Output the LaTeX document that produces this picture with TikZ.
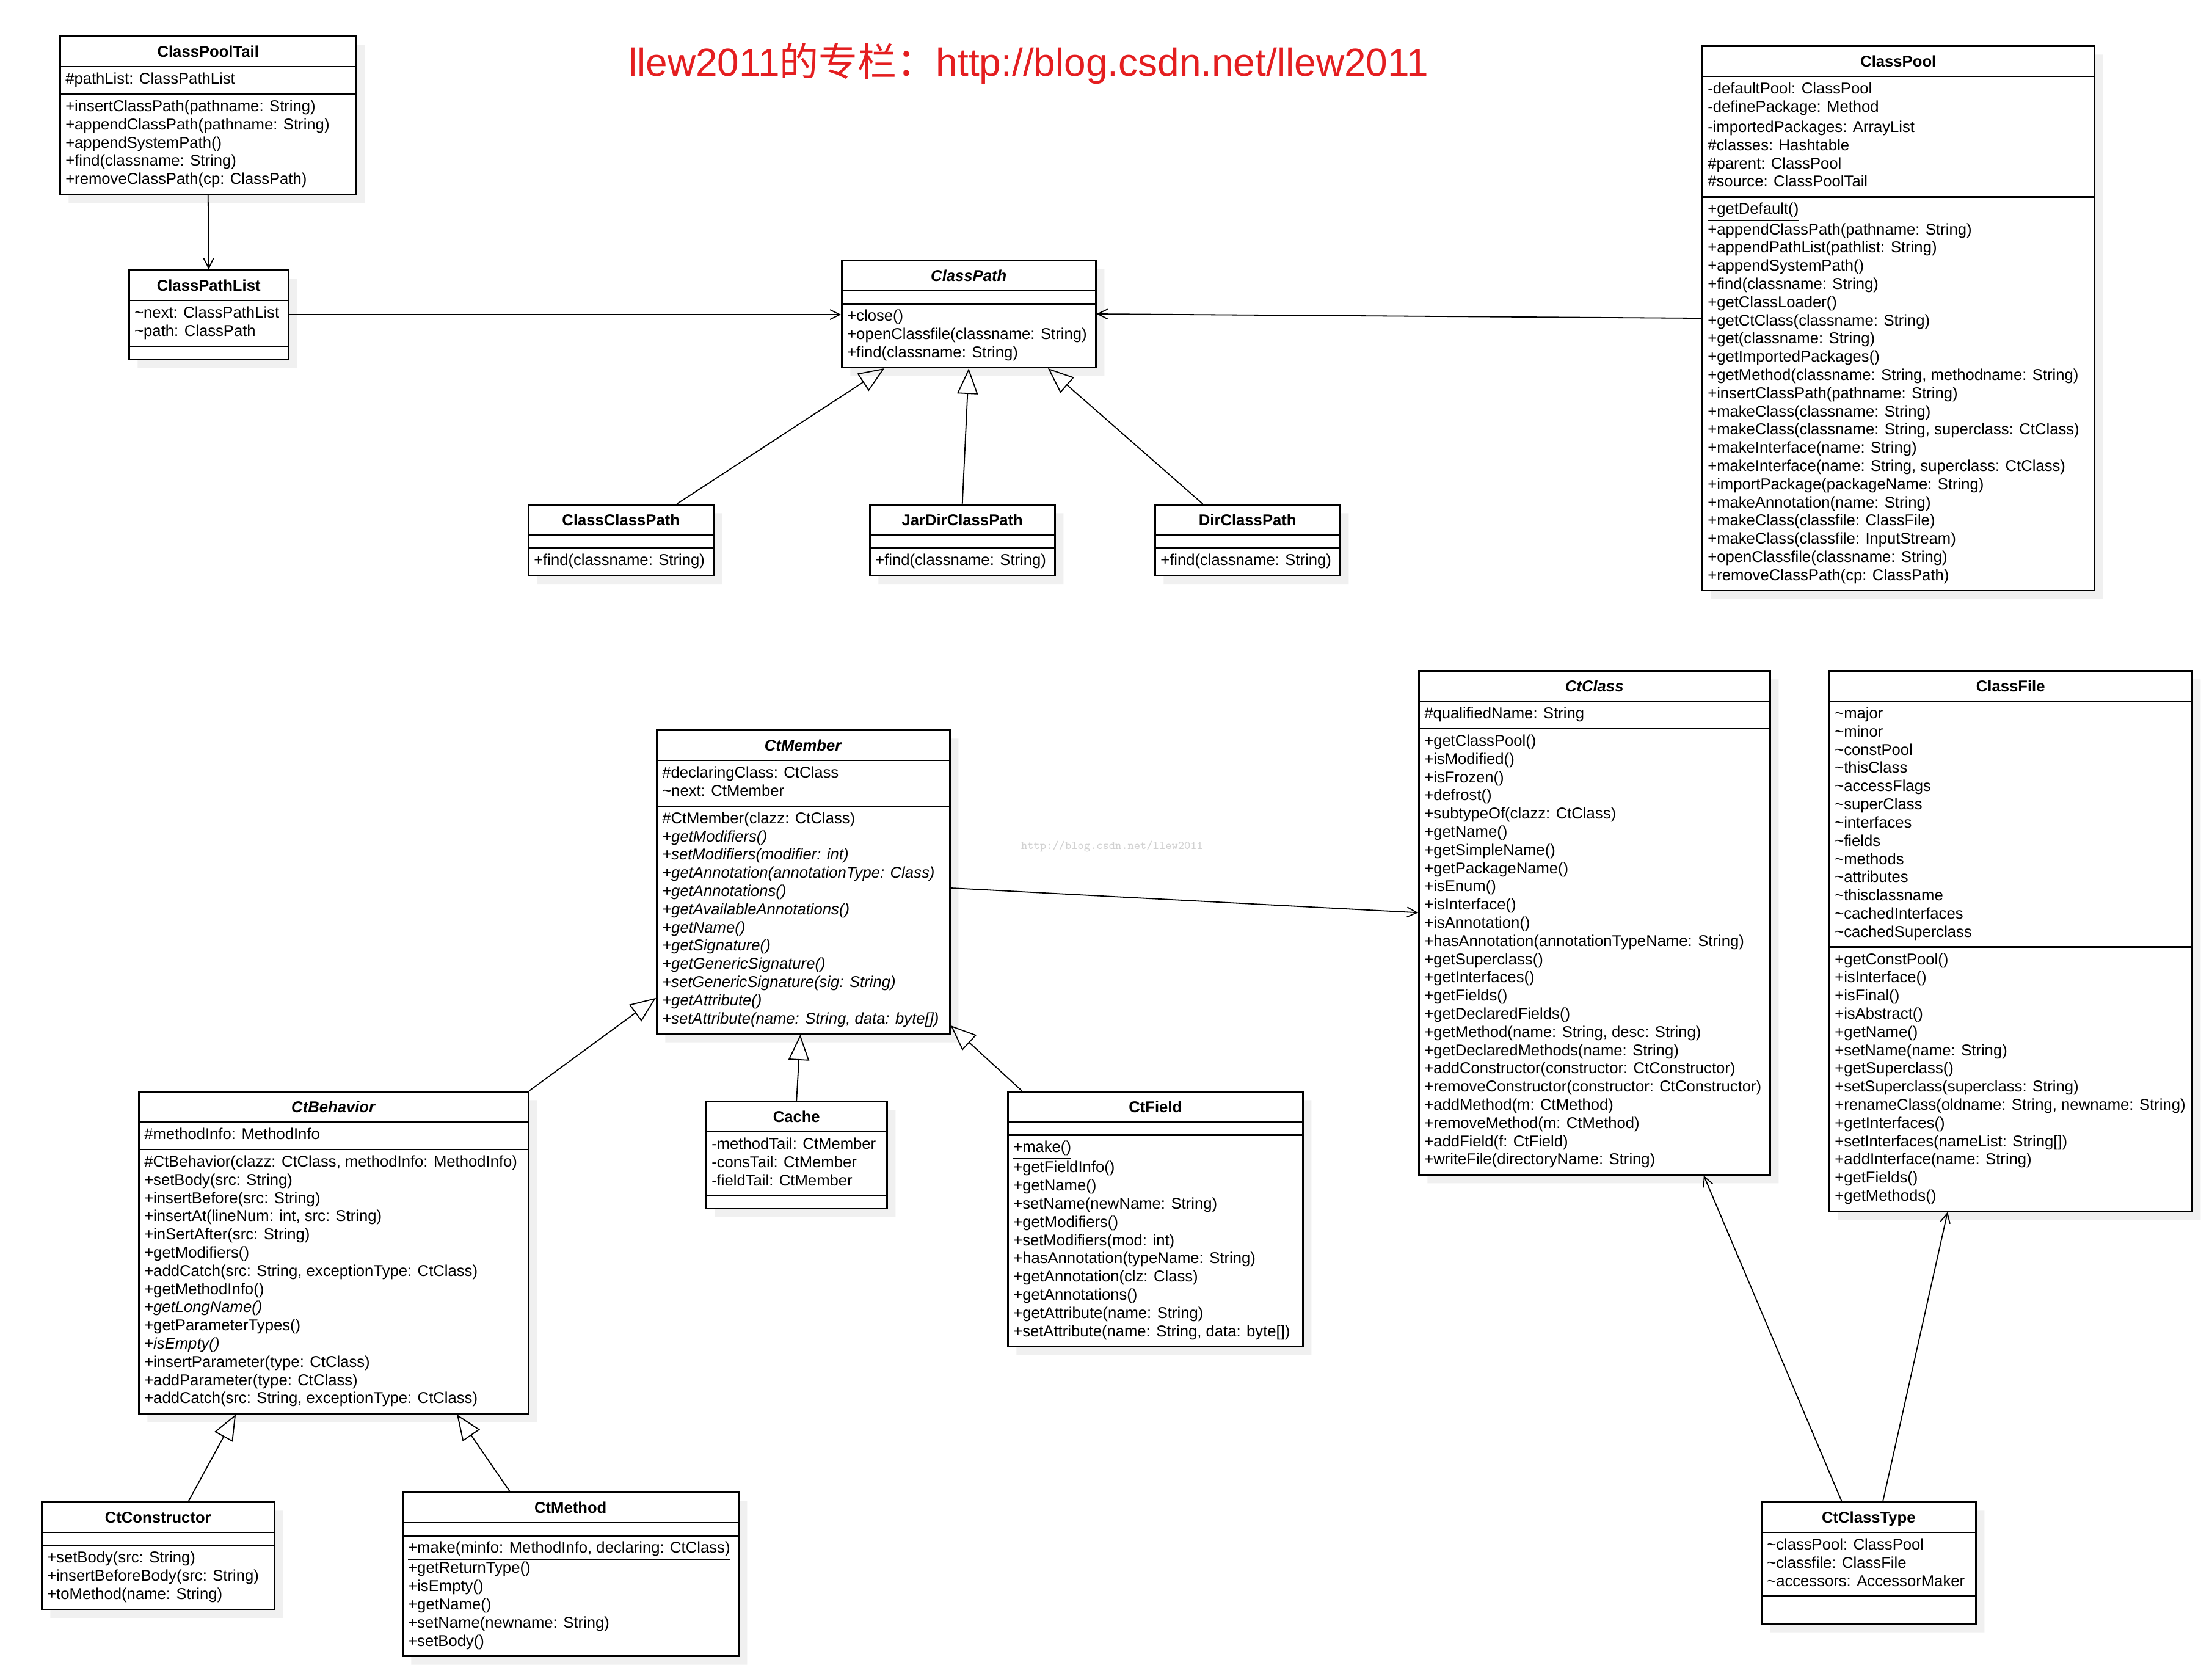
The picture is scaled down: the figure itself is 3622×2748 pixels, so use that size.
\documentclass[tikz,border=0pt]{standalone}
\usepackage{fontspec}
\setmainfont{Liberation Sans}
\newfontfamily\cjk{Noto Sans CJK SC}
\usetikzlibrary{arrows.meta, shapes.multipart, shadows, calc, positioning}
\definecolor{titlered}{RGB}{228,30,32}
\newcommand{\umlfont}{\fontsize{7.3}{8.48}\selectfont}
\newcommand{\clsname}[1]{\rule[-0.78mm]{0pt}{3.48mm}\textbf{#1}}
\newcommand{\members}[1]{\begin{tabular}{@{}l@{}}#1\end{tabular}}
\newcommand{\nomembers}{\phantom{\rule{1pt}{0.6mm}}}
\newcommand{\pk}{\textasciitilde}

\begin{document}
\begin{tikzpicture}[
    x=0.1mm, y=-0.1mm,
    umlclass/.style={rectangle split, rectangle split parts=3, draw, line width=0.25mm,
      fill=white, anchor=north west, inner xsep=0.9mm, inner ysep=0.63mm,
      rectangle split part align={center,left,left},
      font=\umlfont,
      drop shadow={shadow xshift=1.4mm, shadow yshift=-1.4mm, fill=black!6, draw=none, opacity=1}},
    assoc/.style={-{Straight Barb[length=1.6mm, width=1.6mm]}, line width=0.18mm},
    inherit/.style={-{Triangle[open, length=4.2mm, width=3.4mm]}, line width=0.18mm}
]
\useasboundingbox (0,0) rectangle (3622,2748);
\fill[white] (0,0) rectangle (3622,2748);

\node[text=titlered, font=\fontsize{18.2}{20}\selectfont] (title) at (1684,104)
  {llew2011{\cjk 的专栏：}http://blog.csdn.net/llew2011};
\node[text=black!18, font=\ttfamily\fontsize{5.5}{6}\selectfont] (wm) at (1821,1386)
  {http://blog.csdn.net/llew2011};

\node[umlclass, minimum width=48.5mm] (tail) at (97,58)
  {\clsname{ClassPoolTail}
   \nodepart{two}\members{\#pathList: ClassPathList}
   \nodepart{three}\members{+insertClassPath(pathname: String)\\
     +appendClassPath(pathname: String)\\
     +appendSystemPath()\\
     +find(classname: String)\\
     +removeClassPath(cp: ClassPath)}};

\node[umlclass, minimum width=26.1mm] (cplist) at (210,441)
  {\clsname{ClassPathList}
   \nodepart{two}\members{\pk next: ClassPathList\\
     \pk path: ClassPath}
   \nodepart{three}\nomembers};

\node[umlclass, minimum width=41.6mm] (cpath) at (1377,425)
  {\clsname{\textit{ClassPath}}
   \nodepart{two}\nomembers
   \nodepart{three}\members{+close()\\
     +openClassfile(classname: String)\\
     +find(classname: String)}};

\node[umlclass, minimum width=64.2mm] (pool) at (2786,74)
  {\clsname{ClassPool}
   \nodepart{two}\members{\underline{-defaultPool: ClassPool}\\
     \underline{-definePackage: Method}\\
     -importedPackages: ArrayList\\
     \#classes: Hashtable\\
     \#parent: ClassPool\\
     \#source: ClassPoolTail}
   \nodepart{three}\members{\underline{+getDefault()}\\
     +appendClassPath(pathname: String)\\
     +appendPathList(pathlist: String)\\
     +appendSystemPath()\\
     +find(classname: String)\\
     +getClassLoader()\\
     +getCtClass(classname: String)\\
     +get(classname: String)\\
     +getImportedPackages()\\
     +getMethod(classname: String, methodname: String)\\
     +insertClassPath(pathname: String)\\
     +makeClass(classname: String)\\
     +makeClass(classname: String, superclass: CtClass)\\
     +makeInterface(name: String)\\
     +makeInterface(name: String, superclass: CtClass)\\
     +importPackage(packageName: String)\\
     +makeAnnotation(name: String)\\
     +makeClass(classfile: ClassFile)\\
     +makeClass(classfile: InputStream)\\
     +openClassfile(classname: String)\\
     +removeClassPath(cp: ClassPath)}};

\node[umlclass, minimum width=30.3mm] (ccpath) at (864,825)
  {\clsname{ClassClassPath}
   \nodepart{two}\nomembers
   \nodepart{three}\members{+find(classname: String)}};
\node[umlclass, minimum width=30.3mm] (jarpath) at (1423,825)
  {\clsname{JarDirClassPath}
   \nodepart{two}\nomembers
   \nodepart{three}\members{+find(classname: String)}};
\node[umlclass, minimum width=30.3mm] (dirpath) at (1890,825)
  {\clsname{DirClassPath}
   \nodepart{two}\nomembers
   \nodepart{three}\members{+find(classname: String)}};

\node[umlclass, minimum width=48mm] (member) at (1074,1194)
  {\clsname{\textit{CtMember}}
   \nodepart{two}\members{\#declaringClass: CtClass\\
     \pk next: CtMember}
   \nodepart{three}\members{\#CtMember(clazz: CtClass)\\
     \textit{+getModifiers()}\\
     \textit{+setModifiers(modifier: int)}\\
     \textit{+getAnnotation(annotationType: Class)}\\
     \textit{+getAnnotations()}\\
     \textit{+getAvailableAnnotations()}\\
     \textit{+getName()}\\
     \textit{+getSignature()}\\
     \textit{+getGenericSignature()}\\
     \textit{+setGenericSignature(sig: String)}\\
     \textit{+getAttribute()}\\
     \textit{+setAttribute(name: String, data: byte[])}}};

\node[umlclass, minimum width=57.5mm] (ctclass) at (2322,1097)
  {\clsname{\textit{CtClass}}
   \nodepart{two}\members{\#qualifiedName: String}
   \nodepart{three}\members{+getClassPool()\\
     +isModified()\\
     +isFrozen()\\
     +defrost()\\
     +subtypeOf(clazz: CtClass)\\
     +getName()\\
     +getSimpleName()\\
     +getPackageName()\\
     +isEnum()\\
     +isInterface()\\
     +isAnnotation()\\
     +hasAnnotation(annotationTypeName: String)\\
     +getSuperclass()\\
     +getInterfaces()\\
     +getFields()\\
     +getDeclaredFields()\\
     +getMethod(name: String, desc: String)\\
     +getDeclaredMethods(name: String)\\
     +addConstructor(constructor: CtConstructor)\\
     +removeConstructor(constructor: CtConstructor)\\
     +addMethod(m: CtMethod)\\
     +removeMethod(m: CtMethod)\\
     +addField(f: CtField)\\
     +writeFile(directoryName: String)}};

\node[umlclass, minimum width=59.4mm] (cfile) at (2994,1097)
  {\clsname{ClassFile}
   \nodepart{two}\members{\pk major\\
     \pk minor\\
     \pk constPool\\
     \pk thisClass\\
     \pk accessFlags\\
     \pk superClass\\
     \pk interfaces\\
     \pk fields\\
     \pk methods\\
     \pk attributes\\
     \pk thisclassname\\
     \pk cachedInterfaces\\
     \pk cachedSuperclass}
   \nodepart{three}\members{+getConstPool()\\
     +isInterface()\\
     +isFinal()\\
     +isAbstract()\\
     +getName()\\
     +setName(name: String)\\
     +getSuperclass()\\
     +setSuperclass(superclass: String)\\
     +renameClass(oldname: String, newname: String)\\
     +getInterfaces()\\
     +setInterfaces(nameList: String[])\\
     +addInterface(name: String)\\
     +getFields()\\
     +getMethods()}};

\node[umlclass, minimum width=63.8mm] (behavior) at (226,1786)
  {\clsname{\textit{CtBehavior}}
   \nodepart{two}\members{\#methodInfo: MethodInfo}
   \nodepart{three}\members{\#CtBehavior(clazz: CtClass, methodInfo: MethodInfo)\\
     +setBody(src: String)\\
     +insertBefore(src: String)\\
     +insertAt(lineNum: int, src: String)\\
     +inSertAfter(src: String)\\
     +getModifiers()\\
     +addCatch(src: String, exceptionType: CtClass)\\
     +getMethodInfo()\\
     +\textit{getLongName()}\\
     +getParameterTypes()\\
     +\textit{isEmpty()}\\
     +insertParameter(type: CtClass)\\
     +addParameter(type: CtClass)\\
     +addCatch(src: String, exceptionType: CtClass)}};

\node[umlclass, minimum width=29.6mm] (cache) at (1155,1802)
  {\clsname{Cache}
   \nodepart{two}\members{-methodTail: CtMember\\
     -consTail: CtMember\\
     -fieldTail: CtMember}
   \nodepart{three}\nomembers};

\node[umlclass, minimum width=48.3mm] (field) at (1649,1786)
  {\clsname{CtField}
   \nodepart{two}\nomembers
   \nodepart{three}\members{\underline{+make()}\\
     +getFieldInfo()\\
     +getName()\\
     +setName(newName: String)\\
     +getModifiers()\\
     +setModifiers(mod: int)\\
     +hasAnnotation(typeName: String)\\
     +getAnnotation(clz: Class)\\
     +getAnnotations()\\
     +getAttribute(name: String)\\
     +setAttribute(name: String, data: byte[])}};

\node[umlclass, minimum width=38.1mm] (ctor) at (67,2458)
  {\clsname{CtConstructor}
   \nodepart{two}\nomembers
   \nodepart{three}\members{+setBody(src: String)\\
     +insertBeforeBody(src: String)\\
     +toMethod(name: String)}};

\node[umlclass, minimum width=55mm] (method) at (658,2442)
  {\clsname{CtMethod}
   \nodepart{two}\nomembers
   \nodepart{three}\members{\underline{+make(minfo: MethodInfo, declaring: CtClass)}\\
     +getReturnType()\\
     +isEmpty()\\
     +getName()\\
     +setName(newname: String)\\
     +setBody()}};

\node[umlclass, minimum width=35.1mm] (ctype) at (2883,2458)
  {\clsname{CtClassType}
   \nodepart{two}\members{\pk classPool: ClassPool\\
     \pk classfile: ClassFile\\
     \pk accessors: AccessorMaker}
   \nodepart{three}\members{\mbox{}}};

\draw[assoc] (tail.south) -- (cplist.north);
\draw[assoc] (cplist.east) -- (cplist.east -| cpath.west);
\draw[assoc] (pool.west) -- (cpath.east);
\draw[inherit] ($(ccpath.north west)!0.8!(ccpath.north east)$) -- ($(cpath.south west)!0.17!(cpath.south east)$);
\draw[inherit] (jarpath.north) -- (cpath.south);
\draw[inherit] ($(dirpath.north west)!0.26!(dirpath.north east)$) -- ($(cpath.south west)!0.81!(cpath.south east)$);
\draw[assoc] ($(member.north east)!0.52!(member.south east)$) -- ($(ctclass.north west)!0.48!(ctclass.south west)$);
\draw[inherit] (behavior.north east) -- ($(member.north west)!0.88!(member.south west)$);
\draw[inherit] (cache.north) -- ($(member.south west)!0.49!(member.south east)$);
\draw[inherit] ($(field.north west)!0.05!(field.north east)$) -- ($(member.north east)!0.97!(member.south east)$);
\draw[inherit] ($(ctor.north west)!0.63!(ctor.north east)$) -- ($(behavior.south west)!0.25!(behavior.south east)$);
\draw[inherit] ($(method.north west)!0.32!(method.north east)$) -- ($(behavior.south west)!0.815!(behavior.south east)$);
\draw[assoc] ($(ctype.north west)!0.375!(ctype.north east)$) -- ($(ctclass.south west)!0.81!(ctclass.south east)$);
\draw[assoc] ($(ctype.north west)!0.566!(ctype.north east)$) -- ($(cfile.south west)!0.327!(cfile.south east)$);
\end{tikzpicture}
\end{document}
